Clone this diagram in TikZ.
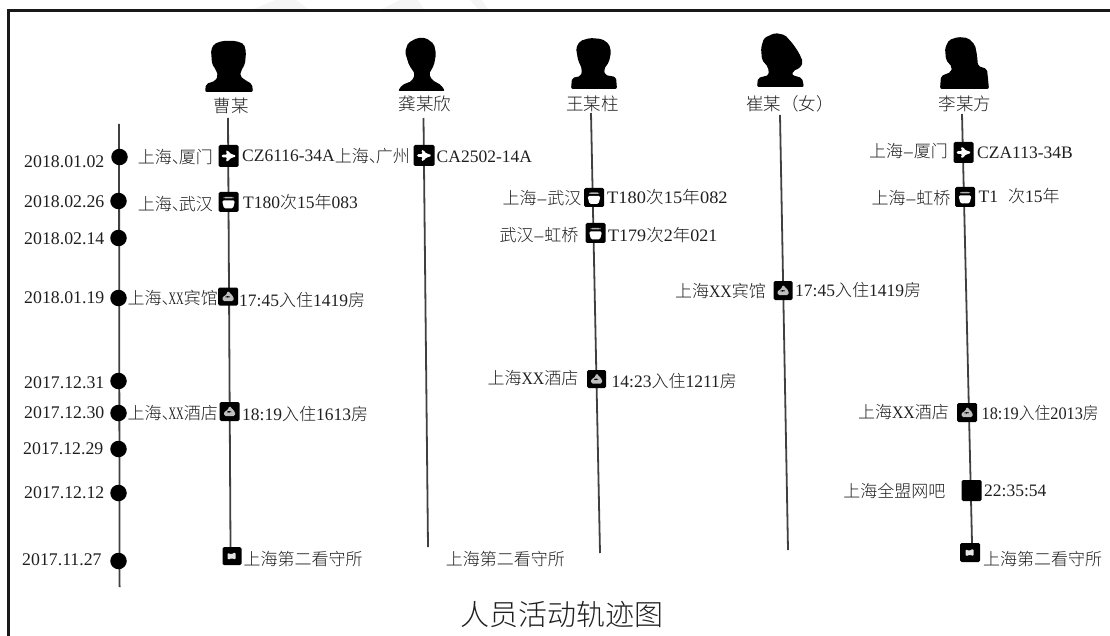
\documentclass[tikz,border=0pt]{standalone}
\usepackage{fontspec}
\usepackage{graphicx}
\usetikzlibrary{backgrounds}
\setmainfont{Liberation Serif}
\newfontfamily\cjk{Noto Sans CJK SC Light}
\newcommand{\cn}[1]{{\cjk\fontsize{17}{18}\selectfont #1}}
\newcommand{\dun}{\cn{、}\hspace{-10pt}}
\newcommand{\nx}{\scalebox{.6}[1]{XX}}
\newcommand{\wx}{\scalebox{.9}[1]{XX}}
\newcommand{\hy}{\hspace{1pt}\char"2013\hspace{1pt}}
\tikzset{
  lbl/.style={inner sep=0pt,text=black!88,font=\fontsize{17.5}{18}\selectfont},
  lw/.style={lbl,anchor=west},
  le/.style={lbl,anchor=east},
  datelbl/.style={lw,font=\fontsize{17.8}{18}\selectfont},
  personname/.style={inner sep=0pt,text=black!88,font=\cjk\fontsize{17.5}{18}\selectfont},
  datedot/.style={circle,fill=black,inner sep=0pt,minimum size=16.5pt},
  track/.style={line width=1.8pt,draw=black!75},
  sil/.style={fill=black,rounded corners=2pt},
  iconbox/.style={fill=black,rounded corners=1.5pt,inner sep=0pt,minimum width=20pt,minimum height=20pt},
  planebox/.style={iconbox,path picture={
    \fill[white,shift={(path picture bounding box.center)}]
      (-7,-1.3)--(-1,-1.3)--(-3,-5.5)--(-0.5,-5.5)--(2.5,-1.6)--(5.5,-1.6)--(7.8,0)--(5.5,1.6)--(2.5,1.6)--(-0.5,5.5)--(-3,5.5)--(-1,1.3)--(-7,1.3)--cycle;}},
  trainbox/.style={iconbox,path picture={
    \fill[white,shift={(path picture bounding box.center)}]
      (-6.5,-1.5)--(6.5,-1.5)--(4.5,6.5)--(-4.5,6.5)--cycle;
    \fill[white!70!black,shift={(path picture bounding box.center)}] (-5,-5) rectangle (5,-3.5);}},
  hotelbox/.style={iconbox,path picture={
    \fill[white!75!black,shift={(path picture bounding box.center)}]
      (-5.5,4.5)--(-5.5,0)--(-2,-1)--(0,-6)--(3,-2)--(5.5,0)--(5.5,4.5)--cycle;
    \fill[black,shift={(path picture bounding box.center)}] (-2.5,-0.5) rectangle (1.5,1.2);}},
  jailbox/.style={iconbox,path picture={
    \fill[white!90!black,shift={(path picture bounding box.center)}]
      (-4.5,-3.5)--(-1,-1.5)--(3.5,-4)--(3.5,4)--(0,2)--(-4.5,4)--cycle;}},
  netbox/.style={iconbox},
}
\begin{document}
\begin{tikzpicture}[x=1pt,y=-1pt]
\useasboundingbox (0,0) rectangle (1110,636);
% watermark traces
\fill[black!4] (254,9)--(275,0)--(296,0)--(308,9)--cycle;
\fill[black!4] (382,9)--(400,0)--(418,0)--(424,9)--cycle;
\fill[black!4] (470,0)--(482,0)--(488,9)--(478,9)--cycle;
% frame
\draw[line width=2.6pt,draw=black!90] (8.5,636)--(8.5,10.5)--(1110,10.5);

% silhouettes
\fill[sil] (205,92)--(206,84)--(215,81)--(218,76)--(216,70)--(212,64)--(211,50)--(214,44)--(222,41)--(236,41)--(244,44)--(246,52)--(245,64)--(241,71)--(240,76)--(245,80)--(252,84)--(253,92)--cycle;
\fill[sil] (398,91)--(402,85)--(412,81)--(415,74)--(409,65)--(405,52)--(408,43)--(417,38)--(426,38)--(434,44)--(436,54)--(434,65)--(429,74)--(432,80)--(441,85)--(445,91)--cycle;
\fill[sil] (571,89)--(572,78)--(581,76)--(582,69)--(578,60)--(576,48)--(580,41)--(590,38)--(602,39)--(609,44)--(611,52)--(609,62)--(604,69)--(605,75)--(616,77)--(617,89)--cycle;
\fill[sil] (757,87)--(758,78)--(769,75)--(768,67)--(762,60)--(761,48)--(764,38)--(775,33)--(785,35)--(793,44)--(799,53)--(803,62)--(800,68)--(793,71)--(792,75)--(802,78)--(804,87)--cycle;
\fill[sil] (940,89)--(941,76)--(951,72)--(952,67)--(946,60)--(945,48)--(949,40)--(958,37)--(968,38)--(975,45)--(977,55)--(978,66)--(987,69)--(989,89)--cycle;

% person names
\node[personname] (n1) at (231,106) {曹某};
\node[personname] (n2) at (425,104) {龚某欣};
\node[personname] (n3) at (592.5,104) {王某柱};
\node[personname] (n4) at (790,104) {崔某（女）};
\node[personname] (n5) at (965,104) {李某方};

% track ends
\coordinate (t0a) at (119,124); \coordinate (t0b) at (119.6,587);
\coordinate (t1a) at (228,118); \coordinate (t1b) at (230.5,547);
\coordinate (t2a) at (423.5,118); \coordinate (t2b) at (428,547);
\coordinate (t3a) at (591,113); \coordinate (t3b) at (600,553);
\coordinate (t4a) at (780,115); \coordinate (t4b) at (788,550);
\coordinate (t5a) at (962,114); \coordinate (t5b) at (972,543);

% date dots and labels
\node[datedot] (d1) at (119.5,157) {};
\node[datedot] (d2) at (118.5,201) {};
\node[datedot] (d3) at (118.5,238) {};
\node[datedot] (d4) at (118.5,298) {};
\node[datedot] (d5) at (118.5,381) {};
\node[datedot] (d6) at (118.5,413) {};
\node[datedot] (d7) at (118.5,449) {};
\node[datedot] (d8) at (118.5,493) {};
\node[datedot] (d9) at (118.5,561) {};
\node[datelbl] (dl1) at (24,162) {2018.01.02};
\node[datelbl] (dl2) at (24,202) {2018.02.26};
\node[datelbl] (dl3) at (24,239) {2018.02.14};
\node[datelbl] (dl4) at (24,298) {2018.01.19};
\node[datelbl] (dl5) at (24,383) {2017.12.31};
\node[datelbl] (dl6) at (24,413) {2017.12.30};
\node[datelbl] (dl7) at (23,449) {2017.12.29};
\node[datelbl] (dl8) at (24,493) {2017.12.12};
\node[datelbl] (dl9) at (22,560) {2017.11.27};

% icons
\node[planebox,minimum height=22pt] (a1) at (228.5,156) {};
\node[trainbox] (a2) at (228.5,202) {};
\node[hotelbox,minimum height=18pt] (a3) at (228,296.5) {};
\node[hotelbox,minimum height=19pt] (a4) at (229.5,411.5) {};
\node[jailbox,minimum height=18pt,minimum width=19pt] (a5) at (232,556) {};
\node[planebox,minimum height=21pt,minimum width=21pt] (b1) at (424,155.5) {};
\node[trainbox,minimum height=19pt] (c1) at (594,197.5) {};
\node[trainbox] (c2) at (595.5,233) {};
\node[hotelbox,minimum height=18pt,minimum width=19pt] (c3) at (596.5,379) {};
\node[hotelbox,minimum height=19pt,minimum width=19pt] (e1) at (783,290.5) {};
\node[planebox,minimum height=21pt] (f1) at (963.5,152.5) {};
\node[trainbox] (f2) at (965,197) {};
\node[hotelbox,minimum height=19pt] (f3) at (967,412.5) {};
\node[netbox,minimum height=21pt] (f4) at (971.5,490.5) {};
\node[jailbox,minimum height=19pt] (f5) at (970,552.5) {};

% labels
\node[le] (la1) at (213,157) {\cn{上海}\dun\cn{厦门}};
\node[lw] (la2) at (242,156) {CZ6116-34A};
\node[le] (lb1) at (410,156) {\cn{上海}\dun\cn{广州}};
\node[lw] (lb2) at (436.5,157) {CA2502-14A};
\node[le] (la3) at (213,204) {\cn{上海}\dun\cn{武汉}};
\node[lw] (la4) at (243,202) {T180\cn{次}15\cn{年}083};
\node[le] (la5) at (218,298) {\cn{上海}\dun\nx\cn{宾馆}};
\node[lw] (la6) at (239,300) {17:45\cn{入住}1419\cn{房}};
\node[le] (la7) at (218,413) {\cn{上海}\dun\nx\cn{酒店}};
\node[lw] (la8) at (242,414) {18:19\cn{入住}1613\cn{房}};
\node[lw] (la9) at (243.5,559) {\cn{上海第二看守所}};
\node[lw] (lb3) at (445.7,559) {\cn{上海第二看守所}};

\node[le] (lc1) at (581.5,198) {\cn{上海}\hy\cn{武汉}};
\node[lw] (lc2) at (607,197) {\scalebox{1.05}[1]{T180\cn{次}15\cn{年}082}};
\node[le] (lc3) at (578.5,235) {\cn{武汉}\hy\cn{虹桥}};
\node[lw] (lc4) at (608,235) {\scalebox{1.03}[1]{T179\cn{次}2\cn{年}021}};
\node[le] (lc5) at (578.5,378) {\cn{上海}\wx\cn{酒店}};
\node[lw] (lc6) at (611.5,381) {14:23\cn{入住}1211\cn{房}};

\node[le] (le1) at (766,291) {\cn{上海}\wx\cn{宾馆}};
\node[lw] (le2) at (795,290) {17:45\cn{入住}1419\cn{房}};

\node[le] (lf1) at (948,151) {\cn{上海}\hy\cn{厦门}};
\node[lw] (lf2) at (977,153) {CZA113-34B};
\node[le] (lf3) at (950.5,198) {\cn{上海}\hy\cn{虹桥}};
\node[lw] (lf4) at (978.5,196) {T1\hspace{10pt}\cn{次}15\cn{年}};
\node[le] (lf5) at (949,412) {\cn{上海}\wx\cn{酒店}};
\node[lw] (lf6) at (981.5,413) {\scalebox{.93}[1]{18:19\cn{入住}2013\cn{房}}};
\node[le] (lf7) at (945.5,491) {\cn{上海全盟网吧}};
\node[lw] (lf8) at (984,491) {22:35:54};
\node[lw] (lf9) at (983,559) {\cn{上海第二看守所}};

% title
\node[inner sep=0pt,text=black!88,font=\cjk\fontsize{29}{30}\selectfont] (title) at (562,615) {人员活动轨迹图};

% connectors
\begin{scope}[on background layer]
\draw[track] (t0a)--(t0b);
\draw[track] (t1a)--(t1b);
\draw[track] (t2a)--(t2b);
\draw[track] (t3a)--(t3b);
\draw[track] (t4a)--(t4b);
\draw[track] (t5a)--(t5b);
\end{scope}
\end{tikzpicture}
\end{document}
